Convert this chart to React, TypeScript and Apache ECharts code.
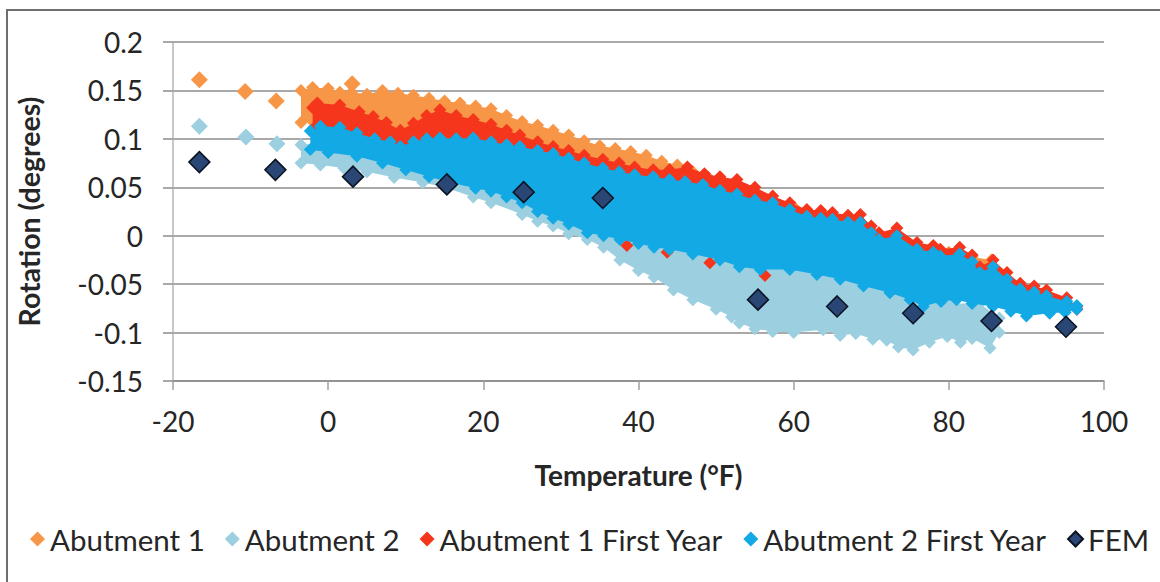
import React, { useEffect, useRef } from "react";
import * as echarts from "echarts";

// ---------- data ----------
const seriesNames = ["Abutment 1", "Abutment 2", "Abutment 1 First Year", "Abutment 2 First Year", "FEM"];
const seriesColors = ["#F79646", "#9CCFE0", "#F5361C", "#12A9E5", "#2A4674"];

// Abutment 1: isolated points and the dense cloud's edges [temperature, rotation]
const abut1Points = [[-16.6, 0.161], [-10.7, 0.149], [-6.7, 0.139], [3.1, 0.157]];
const abut1Top = [
  [-3.5, 0.15], [-2, 0.153], [0, 0.152], [1.5, 0.148], [3, 0.148], [5, 0.146], [7, 0.15], [9, 0.147],
  [11, 0.145], [13, 0.142], [15, 0.139], [17, 0.137], [19, 0.134], [21, 0.131], [23, 0.124], [25, 0.118],
  [27, 0.114], [29, 0.109], [31, 0.104], [33, 0.098], [35, 0.093], [37, 0.09], [39, 0.087], [41, 0.083],
  [43, 0.077], [45, 0.073], [47, 0.066], [49, 0.06], [51, 0.055], [55, 0.046], [60, 0.03], [65, 0.019],
  [70, 0.006], [75, -0.009], [80, -0.017], [83, -0.022], [85.5, -0.025], [88, -0.05], [92, -0.06], [95, -0.068],
];
const abut1Bottom = [
  [-3.5, 0.117], [-2, 0.118], [0, 0.12], [1.5, 0.12], [3, 0.105], [10, 0.095], [20, 0.085], [30, 0.07],
  [40, 0.055], [50, 0.04], [60, 0.02], [70, 0.0], [80, -0.03], [90, -0.06], [95, -0.072],
];

// Abutment 2
const abut2Points = [[-16.6, 0.113], [-10.6, 0.102], [-6.6, 0.095]];
const abut2Top = [
  [-3.5, 0.094], [-1.5, 0.095], [2, 0.09], [10, 0.078], [20, 0.06], [30, 0.03], [40, 0.0], [50, -0.02],
  [60, -0.03], [70, -0.048], [76, -0.062], [80, -0.07], [84, -0.07], [86.5, -0.085],
];
const abut2Bottom = [
  [-3.5, 0.075], [-1, 0.073], [2, 0.07], [5, 0.066], [8.5, 0.06], [12.2, 0.055], [15, 0.05], [18.7, 0.04],
  [21, 0.034], [25, 0.022], [27, 0.015], [29, 0.01], [31, 0.002], [33.4, -0.004], [35.5, -0.012],
  [37.6, -0.025], [40, -0.036], [42, -0.043], [44.5, -0.056], [47, -0.066], [50, -0.076], [52, -0.084],
  [53, -0.09], [55, -0.096], [57.3, -0.099], [60, -0.1], [63.8, -0.097], [66, -0.103], [68, -0.101],
  [70.2, -0.107], [72, -0.108], [73.5, -0.115], [75.4, -0.118], [77.5, -0.11], [79.8, -0.104],
  [81.5, -0.11], [83, -0.106], [85.3, -0.116], [86.5, -0.1],
];

// Abutment 1 First Year
const abut1FyPoints = [[38.5, -0.01], [43.7, -0.017], [49.2, -0.028], [56.3, -0.041]];
const abut1FyTop = [
  [-2, 0.132], [-1.4, 0.137], [1.5, 0.135], [4, 0.128], [5.8, 0.123], [7.5, 0.117], [9.3, 0.109],
  [11, 0.116], [12.7, 0.124], [14.4, 0.13], [16.5, 0.124], [18.7, 0.12], [21, 0.115], [23, 0.109],
  [24.7, 0.104], [27, 0.097], [29, 0.092], [31, 0.088], [33, 0.083], [35.4, 0.079], [37.5, 0.075],
  [39.5, 0.071], [41.9, 0.068], [44, 0.068], [46.3, 0.071], [48.5, 0.064], [50.5, 0.061], [52.7, 0.058],
  [55, 0.05], [57.3, 0.041], [59.5, 0.034], [61.7, 0.027], [63.5, 0.026], [65, 0.024], [67, 0.021],
  [68.6, 0.022], [70, 0.01], [71, 0.003], [73.3, 0.008], [75.9, -0.007], [78, -0.01], [78.9, -0.014],
  [81.4, -0.012], [83, -0.02], [84, -0.032], [85.7, -0.025], [87.5, -0.038], [89.2, -0.049], [91, -0.052],
  [92.6, -0.056], [95.2, -0.064], [96.5, -0.073],
];
const abut1FyBottom = [
  [-2, 0.11], [5, 0.1], [10, 0.09], [20, 0.08], [30, 0.065], [40, 0.05], [50, 0.03], [60, 0.01],
  [70, -0.01], [80, -0.035], [90, -0.06], [96.5, -0.076],
];

// Abutment 2 First Year
const abut2FyTop = [
  [-2.3, 0.108], [-1, 0.113], [1.5, 0.112], [3.7, 0.106], [6, 0.1], [8, 0.097], [9.3, 0.092], [11, 0.097],
  [12.7, 0.1], [14.4, 0.101], [16.5, 0.1], [18.7, 0.101], [21, 0.097], [23, 0.094], [24.7, 0.092],
  [27, 0.088], [29, 0.085], [31, 0.08], [33, 0.075], [35.4, 0.07], [37.5, 0.066], [39.5, 0.063],
  [41.9, 0.061], [44, 0.058], [46, 0.056], [48.3, 0.053], [50.5, 0.047], [52.7, 0.043], [55, 0.037],
  [57.3, 0.034], [59.5, 0.027], [61.7, 0.02], [63.5, 0.018], [65, 0.017], [67, 0.014], [68.6, 0.014],
  [70, 0.003], [71, -0.004], [73.3, 0.0], [75.9, -0.014], [78, -0.017], [78.9, -0.021], [81.4, -0.019],
  [83, -0.027], [84, -0.038], [85.7, -0.032], [87.5, -0.045], [89.2, -0.055], [91, -0.058], [92.6, -0.062],
  [95.2, -0.068], [96.5, -0.072],
];
const abut2FyBottom = [
  [-2.3, 0.089], [0, 0.086], [3.7, 0.082], [7, 0.075], [10, 0.068], [13, 0.061], [15.7, 0.055], [19, 0.049],
  [21, 0.046], [23, 0.04], [25, 0.034], [27, 0.025], [29, 0.018], [31, 0.012], [33.4, 0.003], [35.5, 0.0],
  [37.6, -0.004], [40, -0.008], [42, -0.012], [44, -0.014], [47, -0.019], [50.5, -0.025], [53, -0.032],
  [55.7, -0.035], [59.5, -0.035], [63, -0.04], [66, -0.045], [69, -0.052], [72.4, -0.059], [75, -0.066],
  [76.7, -0.073], [79, -0.068], [81, -0.066], [83, -0.07], [85.7, -0.073], [88, -0.078], [90, -0.083],
  [93, -0.08], [95, -0.079], [96.5, -0.076],
];

// FEM
const femPoints = [
  [-16.6, 0.076], [-6.8, 0.068], [3.2, 0.061], [15.3, 0.053], [25.2, 0.045], [35.4, 0.039],
  [55.4, -0.066], [65.6, -0.073], [75.4, -0.08], [85.5, -0.088], [95.1, -0.094],
];

const xMin = -20, xMax = 100, xStep = 20;
const yMin = -0.15, yMax = 0.2, yStep = 0.05;

const FONT = "Lato, 'Open Sans', sans-serif";
const TEXT = "#262626";

function band(name: string, color: string, top: number[][], bottom: number[][], z: number) {
  return {
    type: "custom",
    name,
    z,
    data: [top[0]],
    encode: { x: 0, y: 1 },
    clip: true,
    silent: true,
    itemStyle: { color },
    renderItem: (_params: any, api: any) => {
      const pts = top.map((p) => api.coord(p)).concat(bottom.slice().reverse().map((p) => api.coord(p)));
      return { type: "polygon", shape: { points: pts }, style: { fill: color } };
    },
  };
}

function dots(name: string, color: string, data: number[][], size: number, z: number, extra: any = {}) {
  return {
    type: "scatter",
    name,
    z,
    data,
    symbol: "diamond",
    symbolSize: size,
    clip: true,
    itemStyle: { color, opacity: 1, ...extra },
    emphasis: { disabled: true },
  };
}

export default function App() {
  const ref = useRef<HTMLDivElement>(null);
  useEffect(() => {
    document.body.style.margin = "0";
    if (!ref.current) return;
    const chart = echarts.init(ref.current, undefined, { renderer: "svg" });
    const [c1, c2, c3, c4, c5] = seriesColors;
    const [n1, n2, n3, n4, n5] = seriesNames;
    chart.setOption({
      animation: false,
      backgroundColor: "#ffffff",
      textStyle: { fontFamily: FONT },
      grid: { left: 173, top: 42, right: 56, bottom: 201, containLabel: false },
      graphic: [
        {
          type: "rect",
          shape: { x: 7, y: 10, width: 1180, height: 620 },
          style: { fill: "none", stroke: "#6e6e6e", lineWidth: 2 },
          silent: true,
        },
      ],
      legend: {
        left: 30,
        top: 524,
        width: 1130,
        itemWidth: 15,
        itemHeight: 15,
        itemGap: 20,
        padding: 0,
        icon: "diamond",
        data: seriesNames,
        textStyle: { fontFamily: FONT, fontSize: 29.5, color: TEXT },
        selectedMode: false,
      },
      xAxis: {
        type: "value",
        min: xMin,
        max: xMax,
        interval: xStep,
        name: "Temperature (°F)",
        nameLocation: "middle",
        nameGap: 80,
        nameTextStyle: { fontFamily: FONT, fontSize: 28, fontWeight: "bold", color: TEXT },
        axisLine: { show: true, onZero: false, lineStyle: { color: "#8c8c8c", width: 1.5 } },
        axisTick: { show: true, length: 9, lineStyle: { color: "#a0a0a0", width: 1.5 } },
        axisLabel: { fontFamily: FONT, fontSize: 28, color: TEXT, margin: 26 },
        splitLine: { show: false },
      },
      yAxis: {
        type: "value",
        min: yMin,
        max: yMax,
        interval: yStep,
        name: "Rotation (degrees)",
        nameLocation: "middle",
        nameGap: 130,
        nameTextStyle: { fontFamily: FONT, fontSize: 28.5, fontWeight: "bold", color: TEXT },
        axisLine: { show: true, onZero: false, lineStyle: { color: "#b4b4b4", width: 1.5 } },
        axisTick: { show: true, length: 10, lineStyle: { color: "#8c8c8c", width: 1.5 } },
        axisLabel: { fontFamily: FONT, fontSize: 28, color: TEXT, margin: 30 },
        splitLine: { show: true, lineStyle: { color: "#8c8c8c", width: 1.5 } },
      },
      series: [
        band(n1, c1, abut1Top, abut1Bottom, 2),
        dots(n1, c1, abut1Top.concat(abut1Bottom), 13, 3),
        dots(n1, c1, abut1Points, 17, 3),
        band(n2, c2, abut2Top, abut2Bottom, 4),
        dots(n2, c2, abut2Top.concat(abut2Bottom), 13, 5),
        dots(n2, c2, abut2Points, 17, 5),
        band(n3, c3, abut1FyTop, abut1FyBottom, 6),
        dots(n3, c3, abut1FyTop.concat(abut1FyBottom), 13, 7),
        dots(n3, c3, abut1FyPoints, 13, 7),
        band(n4, c4, abut2FyTop, abut2FyBottom, 8),
        dots(n4, c4, abut2FyTop.concat(abut2FyBottom), 13, 9),
        dots(n5, c5, femPoints, 21, 10, { borderColor: "#0b1322", borderWidth: 1.5 }),
      ],
    });
    return () => chart.dispose();
  }, []);
  return <div ref={ref} style={{ width: 1160, height: 582 }} />;
}
